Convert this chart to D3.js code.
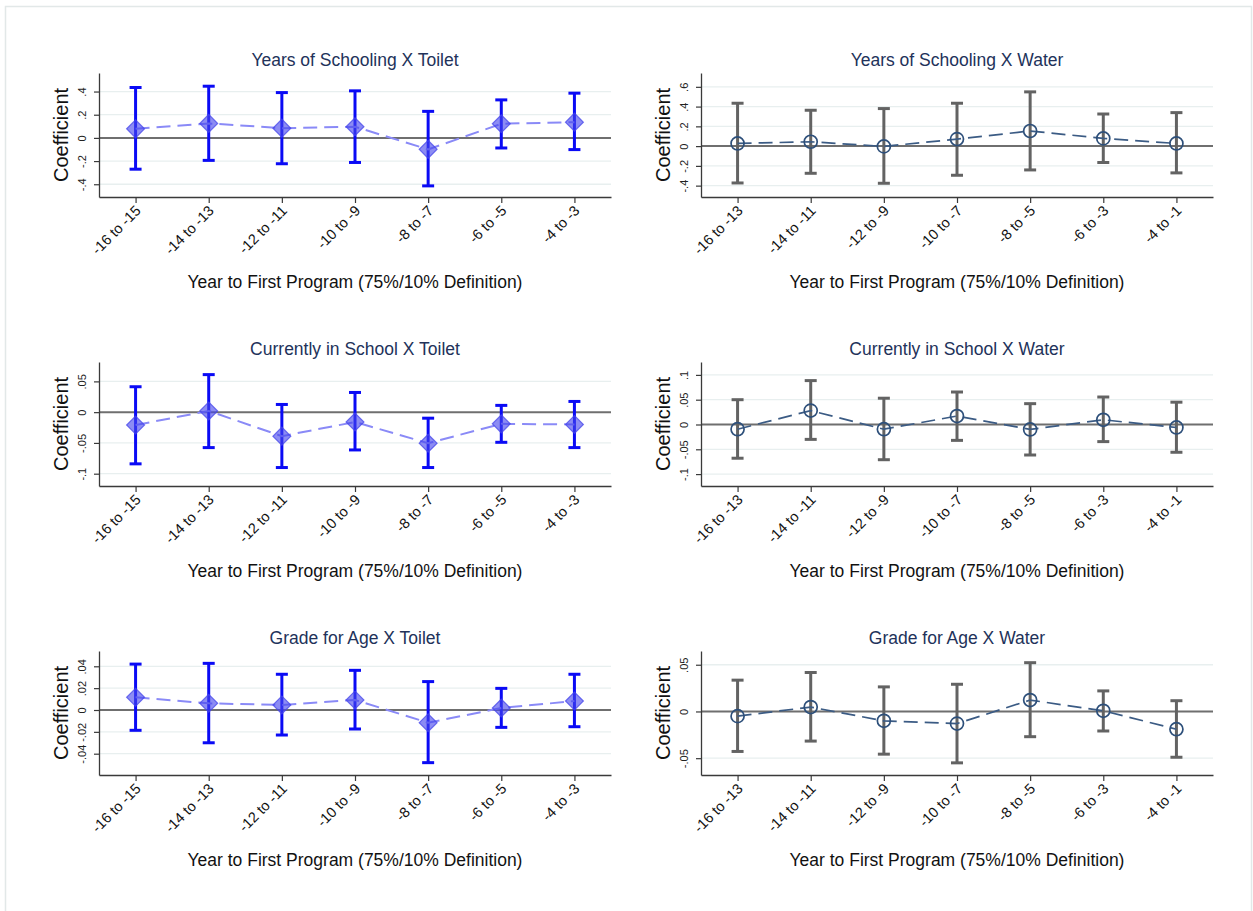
<!DOCTYPE html>
<html>
<head>
<meta charset="utf-8">
<script src="https://cdn.jsdelivr.net/npm/d3@7"></script>
<style>
  body { margin: 0; background: #fff; }
  svg { display: block; }
  text { font-family: "Liberation Sans", Arial, Helvetica, sans-serif; }
</style>
</head>
<body>
<svg id="chart" width="1253" height="911"></svg>
<script>
// Period bins on the x axis
const toiletBins = ["-16 to -15", "-14 to -13", "-12 to -11", "-10 to -9", "-8 to -7", "-6 to -5", "-4 to -3"];
const waterBins  = ["-16 to -13", "-14 to -11", "-12 to -9", "-10 to -7", "-8 to -5", "-6 to -3", "-4 to -1"];

// Years of schooling
const schoolingToiletCoef = [0.078, 0.125, 0.084, 0.096, -0.099, 0.122, 0.136];
const schoolingToiletLo   = [-0.270, -0.194, -0.223, -0.212, -0.414, -0.087, -0.101];
const schoolingToiletHi   = [0.435, 0.446, 0.391, 0.406, 0.229, 0.328, 0.386];
const schoolingWaterCoef  = [0.027, 0.044, -0.003, 0.071, 0.153, 0.078, 0.027];
const schoolingWaterLo    = [-0.373, -0.275, -0.376, -0.295, -0.241, -0.166, -0.271];
const schoolingWaterHi    = [0.434, 0.363, 0.380, 0.434, 0.549, 0.325, 0.339];

// Currently in school
const enrolledToiletCoef = [-0.021, 0.002, -0.039, -0.016, -0.0505, -0.019, -0.020];
const enrolledToiletLo   = [-0.084, -0.0576, -0.090, -0.0614, -0.090, -0.049, -0.0576];
const enrolledToiletHi   = [0.0413, 0.061, 0.0125, 0.032, -0.0098, 0.011, 0.0174];
const enrolledWaterCoef  = [-0.0095, 0.028, -0.0095, 0.017, -0.010, 0.0095, -0.006];
const enrolledWaterLo    = [-0.068, -0.030, -0.071, -0.032, -0.0615, -0.0345, -0.056];
const enrolledWaterHi    = [0.050, 0.0885, 0.053, 0.0655, 0.042, 0.0554, 0.045];

// Grade for age
const gradeToiletCoef = [0.0116, 0.0061, 0.0046, 0.0092, -0.0116, 0.0018, 0.0082];
const gradeToiletLo   = [-0.0186, -0.030, -0.0229, -0.0174, -0.0482, -0.0159, -0.0153];
const gradeToiletHi   = [0.042, 0.0427, 0.0327, 0.0363, 0.0260, 0.0198, 0.0327];
const gradeWaterCoef  = [-0.005, 0.0047, -0.010, -0.013, 0.0122, 0.0007, -0.019];
const gradeWaterLo    = [-0.0428, -0.0317, -0.0457, -0.055, -0.027, -0.0209, -0.049];
const gradeWaterHi    = [0.0335, 0.0417, 0.0263, 0.0291, 0.0522, 0.022, 0.0115];

// Y axis ticks and extents for each panel
const schoolingToiletTicks = [-0.4, -0.2, 0, 0.2, 0.4];
const schoolingWaterTicks  = [-0.4, -0.2, 0, 0.2, 0.4, 0.6];
const enrolledToiletTicks  = [-0.1, -0.05, 0, 0.05];
const enrolledWaterTicks   = [-0.1, -0.05, 0, 0.05, 0.1];
const gradeToiletTicks     = [-0.04, -0.02, 0, 0.02, 0.04];
const gradeWaterTicks      = [-0.05, 0, 0.05];

const schoolingToiletExtent = [-0.51, 0.56];
const schoolingWaterExtent  = [-0.515, 0.74];
const enrolledToiletExtent  = [-0.12, 0.0815];
const enrolledWaterExtent   = [-0.124, 0.126];
const gradeToiletExtent     = [-0.0595, 0.054];
const gradeWaterExtent      = [-0.068, 0.0647];

const xTitle = "Year to First Program (75%/10% Definition)";
const yTitle = "Coefficient";

const panels = [
  { title: "Years of Schooling X Toilet", kind: "toilet", bins: toiletBins, coef: schoolingToiletCoef, lo: schoolingToiletLo, hi: schoolingToiletHi, ticks: schoolingToiletTicks, extent: schoolingToiletExtent, col: 0, row: 0 },
  { title: "Years of Schooling X Water",  kind: "water",  bins: waterBins,  coef: schoolingWaterCoef,  lo: schoolingWaterLo,  hi: schoolingWaterHi,  ticks: schoolingWaterTicks,  extent: schoolingWaterExtent,  col: 1, row: 0 },
  { title: "Currently in School X Toilet", kind: "toilet", bins: toiletBins, coef: enrolledToiletCoef, lo: enrolledToiletLo, hi: enrolledToiletHi, ticks: enrolledToiletTicks, extent: enrolledToiletExtent, col: 0, row: 1 },
  { title: "Currently in School X Water",  kind: "water",  bins: waterBins,  coef: enrolledWaterCoef,  lo: enrolledWaterLo,  hi: enrolledWaterHi,  ticks: enrolledWaterTicks,  extent: enrolledWaterExtent,  col: 1, row: 1 },
  { title: "Grade for Age X Toilet", kind: "toilet", bins: toiletBins, coef: gradeToiletCoef, lo: gradeToiletLo, hi: gradeToiletHi, ticks: gradeToiletTicks, extent: gradeToiletExtent, col: 0, row: 2 },
  { title: "Grade for Age X Water",  kind: "water",  bins: waterBins,  coef: gradeWaterCoef,  lo: gradeWaterLo,  hi: gradeWaterHi,  ticks: gradeWaterTicks,  extent: gradeWaterExtent,  col: 1, row: 2 }
];

// Layout
const colX = [99, 701];
const rowY = [73, 362, 651];
const W = 512, H = 124;

const styles = {
  toilet: { bar: "#0a0af5", line: "#8a8af7", marker: "diamond" },
  water:  { bar: "#636363", line: "#3b5b84", marker: "circle" }
};

// Stata-style number labels: no leading zero
const fmtTick = v => {
  if (v === 0) return "0";
  const s = String(+v.toFixed(4));
  return s.replace(/^(-?)0\./, "$1.");
};

const svg = d3.select("#chart");

// outer frame
svg.append("rect")
  .attr("x", 5.5).attr("y", 6.5)
  .attr("width", 1246).attr("height", 912)
  .attr("fill", "none").attr("stroke", "#e2e8e8").attr("stroke-width", 1.5);

panels.forEach(p => {
  const x0 = colX[p.col], y0 = rowY[p.row];
  const st = styles[p.kind];
  const g = svg.append("g").attr("transform", `translate(${x0},${y0})`);

  const x = d3.scaleLinear().domain([0.5, 7.5]).range([0, W]);
  const y = d3.scaleLinear().domain(p.extent).range([H, 0]);
  const idx = d3.range(1, p.bins.length + 1);

  // gridlines
  g.append("g").selectAll("line").data(p.ticks.filter(t => t !== 0)).join("line")
    .attr("x1", 0).attr("x2", W)
    .attr("y1", d => y(d)).attr("y2", d => y(d))
    .attr("stroke", "#e8efef").attr("stroke-width", 1.3);

  // zero reference line
  g.append("line")
    .attr("x1", 0).attr("x2", W)
    .attr("y1", y(0)).attr("y2", y(0))
    .attr("stroke", "#6f6f6f").attr("stroke-width", 2);

  // y axis
  const ya = g.append("g")
    .call(d3.axisLeft(y).tickValues(p.ticks).tickSize(5).tickSizeOuter(0).tickFormat(fmtTick));
  ya.select(".domain").attr("stroke", "#3a3a3a").attr("stroke-width", 1.3);
  ya.selectAll(".tick line").attr("stroke", "#3a3a3a").attr("stroke-width", 1.2);
  ya.selectAll(".tick text")
    .attr("x", null).attr("dy", null)
    .attr("transform", "translate(-13,0) rotate(-90)")
    .attr("text-anchor", "middle")
    .attr("font-size", 11).attr("fill", "#222")
    .style("font-family", '"Liberation Sans", Arial, sans-serif');

  // x axis
  const xa = g.append("g").attr("transform", `translate(0,${H})`)
    .call(d3.axisBottom(x).tickValues(idx).tickSize(6).tickSizeOuter(0).tickFormat((d, i) => p.bins[i]));
  xa.select(".domain").attr("stroke", "#3a3a3a").attr("stroke-width", 1.3);
  xa.selectAll(".tick line").attr("stroke", "#3a3a3a").attr("stroke-width", 1.2);
  xa.selectAll(".tick text")
    .attr("y", null).attr("dy", "0.35em")
    .attr("transform", "translate(2,11) rotate(-45)")
    .attr("text-anchor", "end")
    .attr("font-size", 14.5).attr("fill", "#111")
    .style("font-family", '"Liberation Sans", Arial, sans-serif');

  // confidence intervals
  const ci = g.append("g").selectAll("g").data(idx).join("g")
    .attr("stroke", st.bar).attr("stroke-width", 3).attr("fill", "none");
  ci.append("line")
    .attr("x1", d => x(d)).attr("x2", d => x(d))
    .attr("y1", (d, i) => y(p.lo[i])).attr("y2", (d, i) => y(p.hi[i]));
  ci.append("line")
    .attr("x1", d => x(d) - 6).attr("x2", d => x(d) + 6)
    .attr("y1", (d, i) => y(p.lo[i])).attr("y2", (d, i) => y(p.lo[i]));
  ci.append("line")
    .attr("x1", d => x(d) - 6).attr("x2", d => x(d) + 6)
    .attr("y1", (d, i) => y(p.hi[i])).attr("y2", (d, i) => y(p.hi[i]));

  // connecting dashed line through the point estimates
  const line = d3.line().x((d, i) => x(i + 1)).y(d => y(d));
  g.append("path").datum(p.coef)
    .attr("d", line)
    .attr("fill", "none")
    .attr("stroke", st.line)
    .attr("stroke-width", p.kind === "toilet" ? 2 : 1.7)
    .attr("stroke-dasharray", "14,7");

  // point estimates
  if (st.marker === "diamond") {
    g.append("g").selectAll("path").data(p.coef).join("path")
      .attr("d", d3.symbol().type(d3.symbolSquare).size(160))
      .attr("transform", (d, i) => `translate(${x(i + 1)},${y(d)}) rotate(45)`)
      .attr("fill", "rgba(70,70,235,0.62)")
      .attr("stroke", "rgba(70,70,235,0.75)")
      .attr("stroke-width", 1.2);
  } else {
    g.append("g").selectAll("circle").data(p.coef).join("circle")
      .attr("cx", (d, i) => x(i + 1)).attr("cy", d => y(d))
      .attr("r", 6.5)
      .attr("fill", "none")
      .attr("stroke", "#2d4f7a")
      .attr("stroke-width", 1.7);
  }

  // panel title
  g.append("text")
    .attr("x", W / 2).attr("y", -7)
    .attr("text-anchor", "middle")
    .attr("font-size", 17.5).attr("fill", "#22325a")
    .text(p.title);

  // y axis title
  g.append("text")
    .attr("transform", `translate(-31,${H / 2}) rotate(-90)`)
    .attr("text-anchor", "middle")
    .attr("font-size", 20).attr("fill", "#111")
    .text(yTitle);

  // x axis title
  g.append("text")
    .attr("x", W / 2).attr("y", H + 91)
    .attr("text-anchor", "middle")
    .attr("font-size", 17.5).attr("fill", "#111")
    .text(xTitle);
});
</script>
</body>
</html>
